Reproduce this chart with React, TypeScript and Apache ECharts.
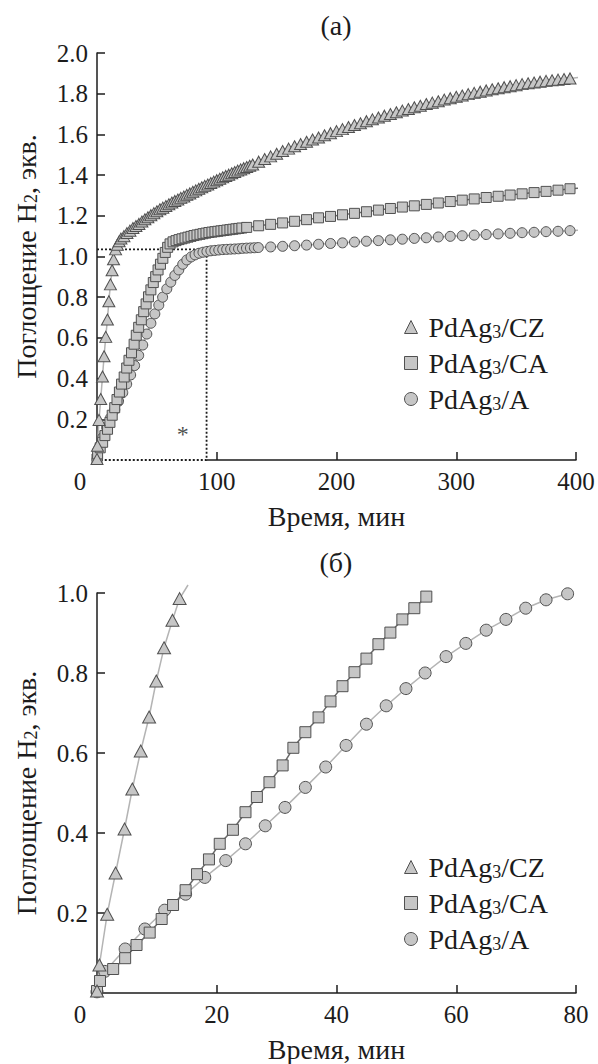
import { useEffect, useRef } from 'react';
import * as echarts from 'echarts';

// ---------- data ----------
const NAME_CZ = 'PdAg3/CZ';
const NAME_CA = 'PdAg3/CA';
const NAME_A = 'PdAg3/A';

// (б) early kinetics, [time, uptake]
const czEarly = [
  [0, 0.005], [0.4, 0.07], [1.7, 0.197], [3.1, 0.3], [4.6, 0.41], [5.9, 0.51],
  [7.3, 0.605], [8.7, 0.69], [9.9, 0.78], [11.2, 0.863], [12.6, 0.932], [13.8, 0.986],
];
const czEarlyEnd = [15.2, 1.02];

const caEarly = [
  [0, 0.005], [0.5, 0.03], [2.7, 0.06], [4.7, 0.087], [6.6, 0.12], [8.8, 0.151],
  [10.8, 0.185], [12.7, 0.22], [14.8, 0.257], [16.7, 0.297], [18.7, 0.334], [20.5, 0.373],
  [22.7, 0.408], [24.8, 0.452], [26.7, 0.49], [28.8, 0.527], [31, 0.569], [32.8, 0.613],
  [34.8, 0.652], [37, 0.689], [39, 0.729], [41, 0.767], [43, 0.802], [45, 0.836],
  [47, 0.872], [49, 0.901], [51, 0.934], [53, 0.962], [55, 0.991],
];

const aEarly = [
  [0, 0.003], [1.3, 0.054], [4.7, 0.11], [8, 0.16], [11.3, 0.207], [14.8, 0.247],
  [18, 0.289], [21.5, 0.331], [24.8, 0.373], [28.1, 0.418], [31.4, 0.464], [34.8, 0.514],
  [38.2, 0.565], [41.6, 0.619], [45, 0.672], [48.3, 0.718], [51.6, 0.761], [54.8, 0.8],
  [58.3, 0.841], [61.6, 0.874], [65, 0.907], [68.3, 0.934], [71.6, 0.962], [75, 0.983],
  [78.6, 0.998],
];

// (а) continuation up to 400 min
const czLate = [
  [15.5, 1.035], [17, 1.058], [18.5, 1.075], [20, 1.088], [22.5, 1.1], [25, 1.115],
  [27.5, 1.127], [30, 1.14], [32.5, 1.15], [35, 1.16], [37.5, 1.172], [40, 1.183],
  [42.5, 1.193], [45, 1.203], [47.5, 1.213], [50, 1.222], [52.5, 1.232], [55, 1.24],
  [57.5, 1.248], [60, 1.257], [62.5, 1.265], [65, 1.273], [67.5, 1.28], [70, 1.288],
  [72.5, 1.295], [75, 1.303], [77.5, 1.31], [80, 1.318], [82.5, 1.325], [85, 1.333],
  [87.5, 1.34], [90, 1.347], [92.5, 1.354], [95, 1.361], [97.5, 1.368], [100, 1.375],
  [102.5, 1.382], [105, 1.389], [107.5, 1.396], [110, 1.402], [112.5, 1.409], [115, 1.415],
  [117.5, 1.422], [120, 1.428], [122.5, 1.434], [125, 1.44], [127.5, 1.446], [130, 1.452],
  [135, 1.466], [140, 1.479], [145, 1.492], [150, 1.505], [155, 1.518], [160, 1.53],
  [165, 1.542], [170, 1.553], [175, 1.564], [180, 1.575], [185, 1.585], [190, 1.596],
  [195, 1.606], [200, 1.616], [205, 1.626], [210, 1.636], [215, 1.646], [220, 1.655],
  [225, 1.665], [230, 1.674], [235, 1.683], [240, 1.692], [245, 1.7], [250, 1.709],
  [255, 1.717], [260, 1.725], [265, 1.733], [270, 1.741], [275, 1.749], [280, 1.756],
  [285, 1.763], [290, 1.771], [295, 1.778], [300, 1.785], [305, 1.791], [310, 1.798],
  [315, 1.804], [320, 1.81], [325, 1.816], [330, 1.822], [335, 1.827], [340, 1.832],
  [345, 1.837], [350, 1.842], [355, 1.847], [360, 1.851], [365, 1.855], [370, 1.859],
  [375, 1.863], [380, 1.866], [385, 1.869], [390, 1.872], [395, 1.875],
];
const czLateEnd = [408, 1.884];

const caLate = [
  [57, 1.02], [59, 1.045], [61, 1.062], [63.5, 1.072], [66, 1.078], [68.5, 1.083],
  [71, 1.087], [73.5, 1.091], [76, 1.095], [78.5, 1.099], [81, 1.103], [83.5, 1.106],
  [86, 1.109], [88.5, 1.112], [91, 1.115], [93.5, 1.118], [96, 1.12], [98.5, 1.122],
  [101, 1.124], [103.5, 1.126], [106, 1.128], [108.5, 1.13], [111, 1.132], [113.5, 1.134],
  [116, 1.136], [118.5, 1.138], [121, 1.14], [125, 1.143], [135, 1.151], [145, 1.158],
  [155, 1.165], [165, 1.173], [175, 1.181], [185, 1.19], [195, 1.197], [205, 1.205],
  [215, 1.212], [225, 1.22], [235, 1.228], [245, 1.236], [255, 1.243], [265, 1.249],
  [275, 1.256], [285, 1.263], [295, 1.27], [305, 1.277], [315, 1.283], [325, 1.29],
  [335, 1.296], [345, 1.302], [355, 1.308], [365, 1.314], [375, 1.32], [385, 1.326],
  [395, 1.333],
];
const caLateEnd = [408, 1.338];

const aLate = [
  [81.9, 1.008], [85.2, 1.016], [88.5, 1.021], [91.8, 1.025], [95.1, 1.028], [98.4, 1.03],
  [101.7, 1.032], [105, 1.034], [108.3, 1.035], [111.6, 1.036], [114.9, 1.037], [118.2, 1.038],
  [121.5, 1.04], [124.8, 1.041], [128.1, 1.042], [131.4, 1.043], [134.7, 1.044], [145, 1.047],
  [155, 1.05], [165, 1.053], [175, 1.056], [185, 1.06], [195, 1.064], [205, 1.067],
  [215, 1.071], [225, 1.075], [235, 1.078], [245, 1.082], [255, 1.085], [265, 1.089],
  [275, 1.092], [285, 1.096], [295, 1.099], [305, 1.102], [315, 1.105], [325, 1.108],
  [335, 1.111], [345, 1.114], [355, 1.117], [365, 1.119], [375, 1.122], [385, 1.124],
  [395, 1.127],
];
const aLateEnd = [408, 1.13];

// dotted region of panel (а) that is enlarged in panel (б)
const zoomBox = [[0, 1.035], [91.5, 1.035], [91.5, 0], [0, 0]];
const zoomBoxBase = [[0, 0], [91.5, 0]];
const starPoint = [[71.7, 0.127]];

const X_MAX_A = 400, X_STEP_A = 100, Y_MAX_A = 2.0;
const X_MAX_B = 80, X_STEP_B = 20, Y_MAX_B = 1.0;
const Y_STEP = 0.2;

// ---------- styles ----------
const FONT = "'Liberation Serif', serif";
const INK = '#1c1c1c';
const FILL = '#c6c6c6';
const EDGE = '#505050';
const LINE_LIGHT = '#b4b4b4';
const LINE_DARK = '#6a6a6a';
const TICK_FS = 25;
const TEXT_FS = 28;

const subRich = {
  sub: { fontSize: 18, fontFamily: FONT, color: INK, verticalAlign: 'bottom', lineHeight: 1 },
};

export default function App() {
  const ref = useRef<HTMLDivElement>(null);

  useEffect(() => {
    if (!ref.current) return;
    const chart = echarts.init(ref.current, undefined, { renderer: 'svg' });

    const mkX = (gridIndex: number, max: number, step: number) => ({
      type: 'value', gridIndex, min: 0, max, interval: step,
      name: 'Время, мин', nameLocation: 'middle', nameGap: 42,
      nameTextStyle: { fontFamily: FONT, fontSize: TEXT_FS, color: INK },
      axisLine: { show: true, lineStyle: { color: INK, width: 1.5 } },
      axisTick: { show: true, inside: true, length: 8, lineStyle: { color: INK, width: 1.5 } },
      axisLabel: {
        fontFamily: FONT, fontSize: TICK_FS, color: INK, margin: 9,
        formatter: (v: number) => (v === 0 ? '{z|0}' : String(v)),
        rich: { z: { fontFamily: FONT, fontSize: TICK_FS, color: INK, padding: [0, 34, 0, 0] } },
      },
      splitLine: { show: false },
    });
    const mkY = (gridIndex: number, max: number) => ({
      type: 'value', gridIndex, min: 0, max, interval: Y_STEP,
      name: 'Поглощение H{sub|2}, экв.', nameLocation: 'middle', nameGap: 57,
      nameTextStyle: { fontFamily: FONT, fontSize: TEXT_FS, color: INK, rich: subRich },
      axisLine: { show: true, lineStyle: { color: INK, width: 1.5 } },
      axisTick: { show: true, inside: true, length: 8, lineStyle: { color: INK, width: 1.5 } },
      axisLabel: {
        fontFamily: FONT, fontSize: TICK_FS, color: INK, margin: 9, showMinLabel: false,
        formatter: (v: number) => v.toFixed(1),
      },
      splitLine: { show: false },
    });

    const mkSeries = (name: string, data: any[], g: number, symbol: string, size: any, lineColor: string) => ({
      type: 'line', name, xAxisIndex: g, yAxisIndex: g, data,
      symbol, symbolSize: size, showSymbol: true, showAllSymbol: true, clip: false,
      lineStyle: { color: lineColor, width: 1.5 },
      itemStyle: { color: FILL, borderColor: EDGE, borderWidth: 1 },
      z: 3, silent: true,
    });

    const withEnd = (pts: number[][], end: number[]) => [
      ...pts, { value: end, symbol: 'none' },
    ];

    const mkLegend = (top: number) => ({
      orient: 'vertical', left: 404, top, padding: 0, itemWidth: 13, itemHeight: 13, itemGap: 8,
      selectedMode: false,
      data: [
        { name: NAME_CZ, icon: 'triangle' },
        { name: NAME_CA, icon: 'rect' },
        { name: NAME_A, icon: 'circle' },
      ],
      itemStyle: { color: FILL, borderColor: EDGE, borderWidth: 1 },
      formatter: (n: string) => n.replace('3', '{sub|3}'),
      textStyle: { fontFamily: FONT, fontSize: TEXT_FS, color: INK, lineHeight: 28, padding: [0, 0, 0, 6], rich: subRich },
    });

    chart.setOption({
      animation: false,
      backgroundColor: '#ffffff',
      grid: [
        { left: 97, width: 479, top: 53, height: 407 },
        { left: 97, width: 479, top: 593, height: 404 },
      ],
      xAxis: [mkX(0, X_MAX_A, X_STEP_A), mkX(1, X_MAX_B, X_STEP_B)],
      yAxis: [mkY(0, Y_MAX_A), mkY(1, Y_MAX_B)],
      legend: [mkLegend(313), mkLegend(853)],
      graphic: [
        { type: 'text', x: 336, y: 25, style: { text: '(а)', fontFamily: FONT, fontSize: TEXT_FS, fill: INK, align: 'center', verticalAlign: 'middle' } },
        { type: 'text', x: 336, y: 562, style: { text: '(б)', fontFamily: FONT, fontSize: TEXT_FS, fill: INK, align: 'center', verticalAlign: 'middle' } },
      ],
      series: [
        {
          type: 'line', xAxisIndex: 0, yAxisIndex: 0, data: zoomBoxBase, symbol: 'none',
          lineStyle: { color: '#ffffff', width: 3 }, z: 1, silent: true,
        },
        {
          type: 'line', xAxisIndex: 0, yAxisIndex: 0, data: zoomBox, symbol: 'none',
          lineStyle: { color: INK, width: 1.8, type: [2, 2] }, z: 2, silent: true,
        },
        {
          type: 'scatter', xAxisIndex: 0, yAxisIndex: 0, data: starPoint, symbolSize: 1,
          itemStyle: { color: 'rgba(0,0,0,0)' }, silent: true,
          label: { show: true, position: 'inside', formatter: '*', fontFamily: FONT, fontSize: 24, color: INK },
        },
        mkSeries(NAME_A, withEnd([...aEarly, ...aLate], aLateEnd), 0, 'circle', 10, LINE_LIGHT),
        mkSeries(NAME_CA, withEnd([...caEarly, ...caLate], caLateEnd), 0, 'rect', 10, LINE_DARK),
        mkSeries(NAME_CZ, withEnd([...czEarly, ...czLate], czLateEnd), 0, 'triangle', [12, 11], LINE_LIGHT),
        mkSeries(NAME_A, aEarly, 1, 'circle', 12, LINE_LIGHT),
        mkSeries(NAME_CA, caEarly, 1, 'rect', 11, LINE_DARK),
        mkSeries(NAME_CZ, withEnd(czEarly, czEarlyEnd), 1, 'triangle', [13, 12], LINE_LIGHT),
      ],
    });

    return () => chart.dispose();
  }, []);

  return (
    <div
      ref={ref}
      style={{ position: 'fixed', left: 0, top: 0, width: 598, height: 1064, background: '#fff' }}
    />
  );
}
